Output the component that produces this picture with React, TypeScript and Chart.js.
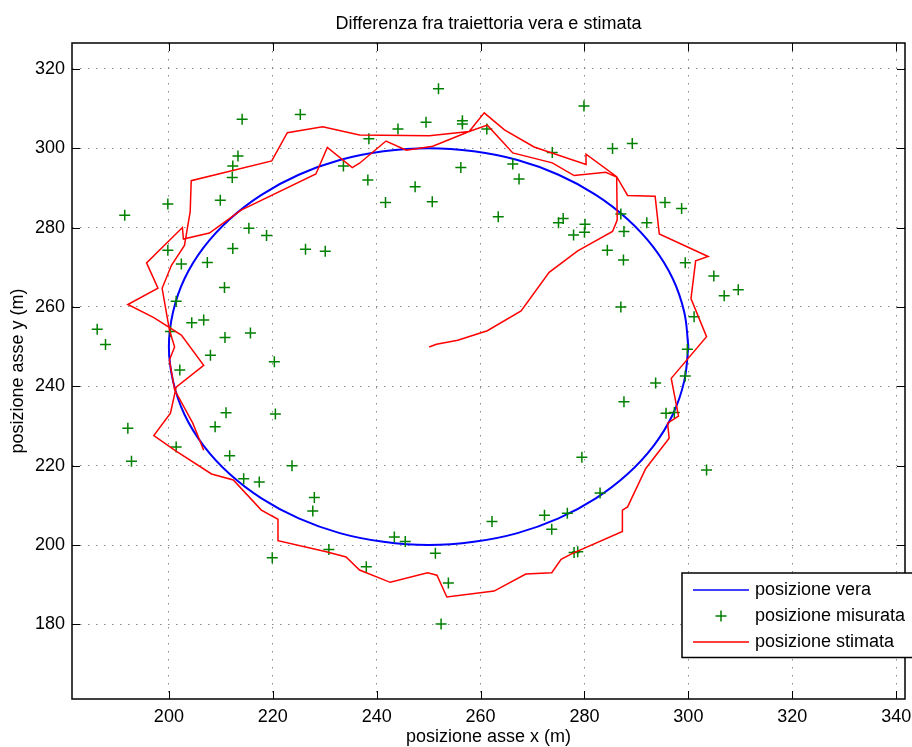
import React, { useEffect, useRef } from "react";
import { Chart, registerables } from "chart.js";

Chart.register(...registerables);

const FONT = "'Liberation Sans', Arial, Helvetica, sans-serif";

const titleText = "Differenza fra traiettoria vera e stimata";
const xLabel = "posizione asse x (m)";
const yLabel = "posizione asse y (m)";
const legendLabels = ["posizione vera", "posizione misurata", "posizione stimata"];

const xTicks = [200, 220, 240, 260, 280, 300, 320, 340];
const yTicks = [180, 200, 220, 240, 260, 280, 300, 320];
const xRange = [181.35, 341.7];
const yRange = [161.2, 326.5];

// true trajectory (circle)
const trueX = [300, 299.2, 297.0, 293.3, 288.3, 282.1, 275.0, 267.1, 258.7, 250, 241.3, 232.9, 225.0, 217.9, 211.7, 206.7, 203.0, 200.8, 200, 200.8, 203.0, 206.7, 211.7, 217.9, 225.0, 232.9, 241.3, 250, 258.7, 267.1, 275.0, 282.1, 288.3, 293.3, 297.0, 299.2, 300];
const trueY = [250, 258.7, 267.1, 275.0, 282.1, 288.3, 293.3, 297.0, 299.2, 300, 299.2, 297.0, 293.3, 288.3, 282.1, 275.0, 267.1, 258.7, 250, 241.3, 232.9, 225.0, 217.9, 211.7, 206.7, 203.0, 200.8, 200, 200.8, 203.0, 206.7, 211.7, 217.9, 225.0, 232.9, 241.3, 250];

// measured positions
const measX = [191.5, 199.8, 214.1, 225.3, 213.3, 212.3, 212.2, 209.9, 215.4, 218.8, 199.8, 202.4, 207.4, 212.3, 226.3, 230.1, 233.6, 251.9, 244.1, 249.5, 256.5, 256.5, 238.5, 261.2, 279.9, 285.4, 289.2, 273.8, 238.3, 256.2, 247.4, 241.7, 250.7, 266.2, 267.4, 263.4, 275.0, 275.9, 280.1, 277.9, 280.0, 287.0, 287.6, 284.4, 287.5, 292.0, 295.5, 298.7, 299.4, 304.9, 306.9, 309.6, 287.0, 301.1, 299.8, 299.4, 293.7, 287.6, 295.7, 297.3, 303.5, 186.2, 187.8, 192.1, 192.8, 210.7, 201.4, 204.4, 206.7, 200.3, 210.8, 215.7, 208.0, 220.3, 202.1, 211.0, 208.9, 220.5, 201.4, 211.7, 223.7, 214.4, 217.4, 228.0, 227.7, 230.8, 219.9, 238.0, 243.4, 245.5, 251.3, 253.8, 252.4, 262.2, 272.3, 273.7, 276.7, 278.0, 278.7, 279.5, 283.0];
const measY = [283.1, 285.9, 307.3, 308.5, 298.0, 295.5, 292.6, 286.9, 279.8, 278.0, 274.3, 270.8, 271.2, 274.7, 274.5, 274.0, 295.5, 315.0, 304.8, 306.5, 306.9, 306.1, 302.4, 304.8, 310.6, 299.9, 301.2, 298.9, 292.0, 295.1, 290.3, 286.3, 286.5, 296.0, 292.2, 282.7, 281.2, 282.3, 280.8, 278.1, 278.8, 283.4, 279.0, 274.3, 271.8, 281.2, 286.3, 284.8, 271.1, 267.8, 262.8, 264.3, 260.0, 257.5, 249.3, 242.6, 240.8, 236.1, 233.2, 233.4, 218.9, 254.4, 250.5, 229.4, 221.1, 264.9, 261.4, 256.0, 256.7, 253.8, 252.3, 253.4, 247.8, 246.2, 244.1, 233.3, 229.8, 233.0, 224.7, 222.5, 220.0, 216.7, 215.9, 212.0, 208.6, 198.9, 196.8, 194.5, 202.0, 200.9, 197.9, 190.4, 180.1, 205.9, 207.5, 204.0, 208.0, 198.1, 198.3, 222.1, 213.1];

// estimated trajectory
const estX = [250.1, 251.5, 255.6, 261.3, 267.8, 273.2, 278.7, 285.4, 286.3, 286.2, 284.1, 278.0, 273.8, 266.2, 261.3, 257.8, 250.8, 245.7, 241.8, 236.7, 235.3, 230.5, 228.3, 213.9, 207.8, 202.8, 202.6, 195.7, 197.9, 192.1, 197.1, 202.4, 206.7, 201.4, 200.3, 197.1, 201.1, 208.2, 212.4, 217.8, 221.0, 221.0, 230.3, 234.1, 236.7, 242.6, 249.8, 251.6, 253.5, 262.6, 268.7, 273.7, 275.5, 277.7, 287.3, 287.3, 288.3, 291.8, 296.3, 296.0, 298.1, 296.7, 303.5, 300.5, 301.4, 303.8, 294.4, 293.6, 288.3, 286.2, 280.3, 280.3, 270.3, 264.6, 260.7, 257.8, 250.1, 236.7, 229.6, 222.8, 219.8, 204.3, 204.1, 203.0, 200.5, 198.7, 200.1, 201.1, 200.1, 201.1, 204.6, 206.7];
const estY = [249.9, 250.6, 251.6, 254.0, 259.0, 268.7, 274.1, 279.0, 281.9, 292.7, 293.9, 293.1, 296.3, 298.8, 305.8, 304.2, 300.5, 299.5, 301.8, 296.2, 295.1, 300.2, 293.5, 284.4, 278.6, 277.1, 280.0, 271.1, 264.7, 260.6, 257.3, 252.9, 245.3, 239.8, 233.2, 227.6, 223.9, 217.9, 216.4, 208.8, 206.5, 201.1, 198.3, 197.0, 193.7, 190.6, 193.0, 192.4, 186.9, 188.4, 192.7, 193.0, 196.4, 197.9, 203.4, 208.8, 209.6, 219.3, 226.9, 230.7, 232.5, 242.0, 252.5, 262.1, 271.6, 272.7, 278.4, 287.9, 288.1, 292.8, 298.5, 295.9, 300.3, 304.6, 308.9, 304.2, 303.1, 303.3, 305.4, 303.9, 296.8, 291.8, 284.0, 275.5, 270.5, 264.7, 254.2, 249.9, 246.6, 239.1, 230.7, 223.9];

const BLUE = "#0000ff";
const GREEN = "#008000";
const RED = "#ff0000";

const toPoints = (xs: number[], ys: number[]) => xs.map((x, i) => ({ x, y: ys[i] }));

const framePlugin = {
  id: "matlabFrame",
  afterDatasetsDraw(chart: any) {
    const { ctx, chartArea: a, scales } = chart;
    ctx.save();
    ctx.strokeStyle = "#000";
    ctx.lineWidth = 1;
    const tl = 8;
    const seg = (x1: number, y1: number, x2: number, y2: number) => {
      ctx.beginPath();
      ctx.moveTo(x1, y1);
      ctx.lineTo(x2, y2);
      ctx.stroke();
    };
    xTicks.forEach((v) => {
      const px = Math.round(scales.x.getPixelForValue(v)) + 0.5;
      seg(px, a.bottom, px, a.bottom - tl);
      seg(px, a.top, px, a.top + tl);
    });
    yTicks.forEach((v) => {
      const py = Math.round(scales.y.getPixelForValue(v)) + 0.5;
      seg(a.left, py, a.left + tl, py);
      seg(a.right, py, a.right - tl, py);
    });
    ctx.lineWidth = 1.5;
    ctx.strokeRect(a.left, a.top, a.right - a.left, a.bottom - a.top);
    ctx.restore();
  },
  afterDraw(chart: any) {
    const { ctx, chartArea: a } = chart;
    const left = a.right - 223;
    const top = a.bottom - 126;
    const bottom = a.bottom - 41.5;
    ctx.save();
    ctx.fillStyle = "#fff";
    ctx.fillRect(left, top, 300, bottom - top);
    ctx.strokeStyle = "#000";
    ctx.lineWidth = 1.5;
    ctx.strokeRect(left, top, 300, bottom - top);
    const rows = [top + 17, top + 43, top + 69];
    const sx1 = left + 11;
    const sx2 = left + 67;
    const tx = left + 73;
    ctx.lineWidth = 1.5;
    ctx.strokeStyle = BLUE;
    ctx.beginPath();
    ctx.moveTo(sx1, rows[0]);
    ctx.lineTo(sx2, rows[0]);
    ctx.stroke();
    ctx.strokeStyle = RED;
    ctx.beginPath();
    ctx.moveTo(sx1, rows[2]);
    ctx.lineTo(sx2, rows[2]);
    ctx.stroke();
    const cx = (sx1 + sx2) / 2;
    ctx.strokeStyle = GREEN;
    ctx.beginPath();
    ctx.moveTo(cx - 5.5, rows[1]);
    ctx.lineTo(cx + 5.5, rows[1]);
    ctx.moveTo(cx, rows[1] - 5.5);
    ctx.lineTo(cx, rows[1] + 5.5);
    ctx.stroke();
    ctx.fillStyle = "#000";
    ctx.font = `18px ${FONT}`;
    ctx.textAlign = "left";
    ctx.textBaseline = "middle";
    legendLabels.forEach((t, i) => ctx.fillText(t, tx, rows[i]));
    ctx.restore();
  },
};

export default function App() {
  const ref = useRef<HTMLCanvasElement | null>(null);

  useEffect(() => {
    const canvas = ref.current;
    if (!canvas) return;
    const chart = new Chart(canvas, {
      type: "scatter",
      data: {
        datasets: [
          {
            label: legendLabels[2],
            data: toPoints(estX, estY),
            showLine: true,
            borderColor: RED,
            borderWidth: 1.5,
            pointRadius: 0,
            tension: 0,
            order: 0,
          },
          {
            label: legendLabels[1],
            data: toPoints(measX, measY),
            showLine: false,
            pointStyle: "cross",
            pointRadius: 5.5,
            borderColor: GREEN,
            backgroundColor: GREEN,
            pointBorderWidth: 1.5,
            order: 1,
          },
          {
            label: legendLabels[0],
            data: toPoints(trueX, trueY),
            showLine: true,
            borderColor: BLUE,
            borderWidth: 2,
            pointRadius: 0,
            tension: 0.4,
            order: 2,
          },
        ],
      },
      options: {
        animation: false,
        responsive: false,
        devicePixelRatio: 1,
        events: [],
        layout: { padding: { left: 0, right: 6, top: 0, bottom: 0 } },
        plugins: {
          legend: { display: false },
          tooltip: { enabled: false },
          title: {
            display: true,
            text: titleText,
            fullSize: false,
            color: "#000",
            font: { family: FONT, size: 18, weight: "normal", lineHeight: 1.2 },
            padding: { top: 13.2, bottom: 8.2 },
          },
        },
        scales: {
          x: {
            type: "linear",
            position: "bottom",
            min: xRange[0],
            max: xRange[1],
            afterBuildTicks: (s: any) => {
              s.ticks = xTicks.map((v) => ({ value: v }));
            },
            afterFit: (s: any) => {
              s.height = 48;
              s.paddingLeft = 0;
              s.paddingRight = 0;
            },
            ticks: {
              color: "#000",
              font: { family: FONT, size: 18, lineHeight: 1.2 },
              padding: 7,
              maxRotation: 0,
              autoSkip: false,
            },
            grid: { color: "#8a8a8a", lineWidth: 1, drawTicks: false },
            border: { display: false, dash: [1.5, 6.5] },
            title: {
              display: true,
              text: xLabel,
              color: "#000",
              font: { family: FONT, size: 18, lineHeight: 1 },
              padding: { top: 0, bottom: 1 },
            },
          },
          y: {
            type: "linear",
            position: "left",
            min: yRange[0],
            max: yRange[1],
            afterBuildTicks: (s: any) => {
              s.ticks = yTicks.map((v) => ({ value: v }));
            },
            afterFit: (s: any) => {
              s.width = 72;
              s.paddingTop = 0;
              s.paddingBottom = 0;
            },
            ticks: {
              color: "#000",
              font: { family: FONT, size: 18, lineHeight: 1.2 },
              padding: 7,
              autoSkip: false,
            },
            grid: { color: "#8a8a8a", lineWidth: 1, drawTicks: false },
            border: { display: false, dash: [1.5, 6.5] },
            title: {
              display: true,
              text: yLabel,
              color: "#000",
              font: { family: FONT, size: 18, lineHeight: 1.2 },
              padding: { top: 7, bottom: 0 },
            },
          },
        },
      },
      plugins: [framePlugin],
    } as any);
    return () => chart.destroy();
  }, []);

  return (
    <div style={{ position: "absolute", left: 0, top: 0, width: 912, height: 747, background: "#fff" }}>
      <canvas ref={ref} width={912} height={747} style={{ display: "block", width: 912, height: 747 }} />
    </div>
  );
}
